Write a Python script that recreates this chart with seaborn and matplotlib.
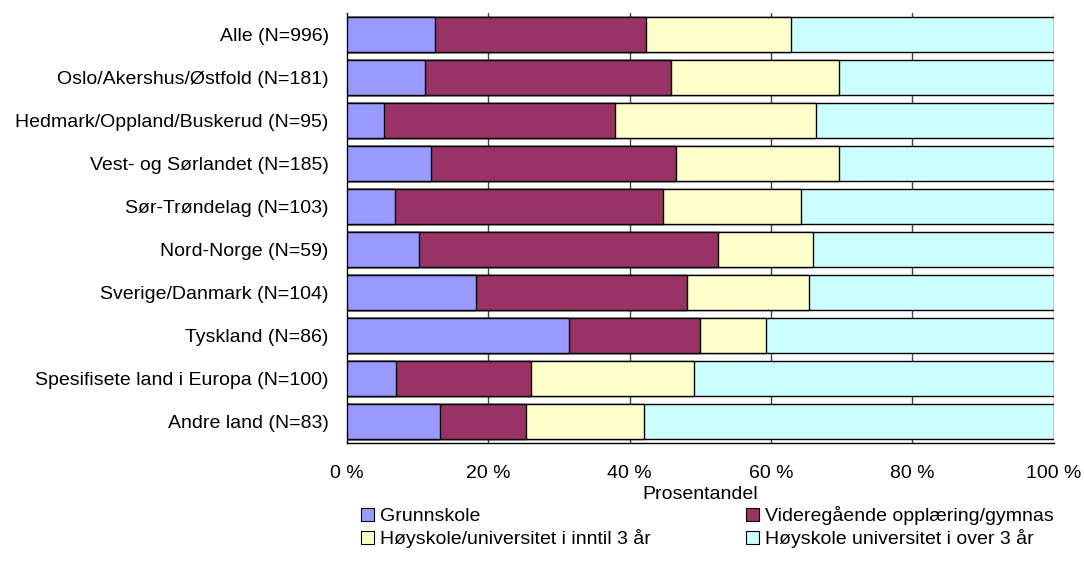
import numpy as np
import pandas as pd
import matplotlib
matplotlib.use("Agg")
import matplotlib.pyplot as plt
import seaborn as sns
from matplotlib.patches import Patch

categories = ["Alle (N=996)", "Oslo/Akershus/Østfold (N=181)", "Hedmark/Oppland/Buskerud (N=95)",
              "Vest- og Sørlandet (N=185)", "Sør-Trøndelag (N=103)", "Nord-Norge (N=59)",
              "Sverige/Danmark (N=104)", "Tyskland (N=86)", "Spesifisete land i Europa (N=100)",
              "Andre land (N=83)"]
grunnskole = [12.4, 11.0, 5.2, 11.9, 6.8, 10.2, 18.2, 31.4, 7.0, 13.2]
videregaende = [29.9, 34.9, 32.7, 34.7, 37.9, 42.3, 29.9, 18.6, 19.0, 12.1]
hoyskole_inntil3 = [20.6, 23.8, 28.5, 23.1, 19.5, 13.5, 17.3, 9.3, 23.1, 16.8]
hoyskole_over3 = [37.1, 30.3, 33.6, 30.3, 35.8, 34.0, 34.6, 40.7, 50.9, 57.9]

series_names = ["Grunnskole", "Videregående opplæring/gymnas",
                "Høyskole/universitet i inntil 3 år", "Høyskole universitet i over 3 år"]
colors = ["#9999FF", "#993366", "#FFFFCC", "#CCFFFF"]
xticks = [0, 20, 40, 60, 80, 100]
xticklabels = ["0 %", "20 %", "40 %", "60 %", "80 %", "100 %"]

sns.set_style("white")
plt.rcParams['font.family'] = ['Liberation Sans', 'DejaVu Sans']
plt.rcParams['text.color'] = 'black'
plt.rcParams['axes.labelcolor'] = 'black'
plt.rcParams['xtick.color'] = 'black'
plt.rcParams['ytick.color'] = 'black'

FS = 14

vals = np.array([grunnskole, videregaende, hoyskole_inntil3, hoyskole_over3])
cum = np.cumsum(vals, axis=0)
cum = cum / cum[-1:] * 100

fig = plt.figure(figsize=(10.84, 5.78), dpi=100)
ax = fig.add_axes([0.320, 0.2336, 0.652, 0.744])

for i in range(3, -1, -1):
    df = pd.DataFrame({"cat": categories, "val": cum[i]})
    sns.barplot(data=df, y="cat", x="val", orient="h", color=colors[i], ax=ax,
                width=0.83, edgecolor="black", linewidth=1.0, saturation=1, zorder=3)

ax.set_xlim(0, 100)
ax.set_ylim(len(categories) - 0.5, -0.5)
ax.set_xticks(xticks)
ax.set_xticklabels(xticklabels, fontsize=FS)
ax.set_yticks(np.arange(len(categories)))
ax.set_yticklabels(categories, fontsize=FS)
ax.tick_params(axis="y", length=0, pad=13)
ax.tick_params(axis="x", length=0, pad=16)
ax.set_yticks(np.arange(len(categories) + 1) - 0.5, minor=True)
ax.tick_params(axis="y", which="minor", length=5, width=1, color="black", direction="out")
ax.set_xticks(xticks, minor=True)
ax.tick_params(axis="x", which="minor", length=5, width=1, color="black", direction="out")

for x in xticks[1:]:
    ax.axvline(x, color="#444444", linewidth=1, zorder=1)

ax.set_xlabel("Prosentandel", fontsize=FS, labelpad=3)
ax.set_ylabel("")
for s in ["top", "right"]:
    ax.spines[s].set_visible(False)
for s in ["left", "bottom"]:
    ax.spines[s].set_color("black")
    ax.spines[s].set_linewidth(1)

handles = [Patch(facecolor=c, edgecolor="black", linewidth=0.8) for c in colors]
order = [0, 2, 1, 3]
leg = fig.legend([handles[k] for k in order], [series_names[k] for k in order],
                 loc="upper left", ncol=2, frameon=False, fontsize=FS, handlelength=0.67,
                 handleheight=0.67, handletextpad=0.3, labelspacing=0.22, borderaxespad=0,
                 borderpad=0, columnspacing=4.9,
                 bbox_to_anchor=(361 / 1084, 1 - 506 / 578))

fig.savefig("out.png", dpi=100)
